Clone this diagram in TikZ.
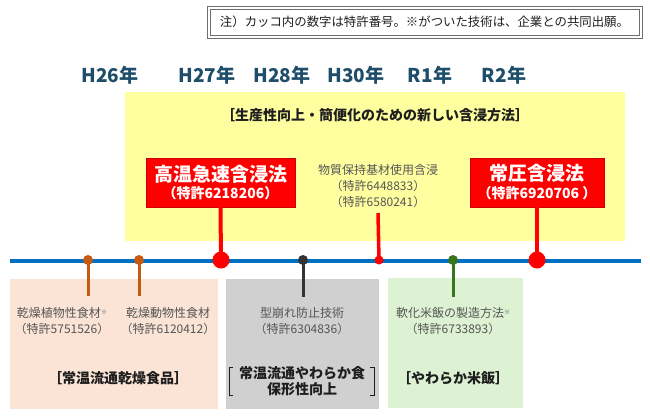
\documentclass[tikz,border=0pt]{standalone}
\usepackage{fontspec}
\setmainfont{Noto Sans CJK JP}
\usetikzlibrary{positioning}
\definecolor{yearblue}{RGB}{31,78,107}
\definecolor{lineblue}{RGB}{0,112,192}
\definecolor{pyellow}{RGB}{255,255,160}
\definecolor{ppink}{RGB}{251,228,214}
\definecolor{pgray}{RGB}{208,208,208}
\definecolor{pgreen}{RGB}{220,242,210}
\definecolor{dotorange}{RGB}{197,90,17}
\definecolor{dotdark}{RGB}{51,51,51}
\definecolor{dotgreen}{RGB}{56,118,29}
\definecolor{txtgray}{RGB}{85,85,85}
\definecolor{txtdark}{RGB}{30,30,30}
\definecolor{frame}{RGB}{110,110,110}
\tikzset{
  year/.style={text=yearblue,font=\fontsize{19}{21}\selectfont\bfseries,inner sep=0pt},
  redbox/.style={fill=red,draw=red!80!black,line width=0.4pt,text=white,align=center,inner sep=0pt,font=\bfseries},
  item/.style={text=txtgray,align=center,font=\fontsize{12}{16}\selectfont,inner sep=0pt},
  cat/.style={text=txtdark,align=center,font=\fontsize{14}{16}\selectfont\bfseries,inner sep=0pt},
  dotc/.style={circle,fill=#1,inner sep=0pt,minimum size=10pt},
  stem/.style={line width=3pt,draw=#1},
  frameline/.style={draw=frame,line width=1pt},
}
\begin{document}
\begin{tikzpicture}[x=1pt,y=-1pt]
\useasboundingbox (0,0) rectangle (650,418);
% note box (double frame)
\coordinate (nb1) at (207,6);
\coordinate (nb2) at (642,38);
\coordinate (nb3) at (210,9);
\coordinate (nb4) at (639,35);
\draw[frameline] (nb1) rectangle (nb2);
\draw[frameline] (nb3) rectangle (nb4);
\node[inner sep=0pt,text=txtdark,font=\fontsize{12.4}{14}\selectfont] (note) at (424.5,22) {注）カッコ内の数字は特許番号。※がついた技術は、企業との共同出願。};
% years
\node[year] (y26) at (110,75) {H26年};
\node[year] (y27) at (207,75) {H27年};
\node[year] (y28) at (282,75) {H28年};
\node[year] (y30) at (356,75) {H30年};
\node[year] (r1) at (430,75) {R1年};
\node[year] (r2) at (504,75) {R2年};
% background boxes
\fill[pyellow] (125,92) rectangle (625,241);
\fill[ppink] (10,279) rectangle (218,409);
\fill[pgray] (226,279) rectangle (379,409);
\fill[pgreen] (388,278) rectangle (523,408);
% timeline
\coordinate (L) at (10,261);
\coordinate (R) at (641,261);
\draw[lineblue,line width=4pt] (L) -- (R);
% yellow header
\node[cat] (hdr) at (375,115) {［生産性向上・簡便化のための新しい含浸方法］};
% red boxes
\node[redbox,minimum width=149pt,minimum height=49pt] (koon) at (220.5,182.5)
  {{\fontsize{19}{23}\selectfont 高温急速含浸法}\\[3pt]{\fontsize{14}{17}\selectfont （特許6218206）}};
\node[redbox,minimum width=134pt,minimum height=49pt] (joatsu) at (537,182.5)
  {{\fontsize{19}{23}\selectfont 常圧含浸法}\\[3pt]{\fontsize{14}{17}\selectfont （特許6920706 ）}};
\node[item] (busshitsu) at (378,186) {物質保持基材使用含浸\\（特許6448833）\\（特許6580241）};
\coordinate (bstem) at (378,213);
% dots
\node[dotc=dotorange] (d1) at (88,260) {};
\node[dotc=dotorange] (d2) at (139,260) {};
\node[dotc=red,minimum size=17pt] (d3) at (221,260) {};
\node[dotc=dotdark] (d4) at (303,260) {};
\node[dotc=red,minimum size=9pt] (d5) at (379,260) {};
\node[dotc=dotgreen] (d6) at (453,260) {};
\node[dotc=red,minimum size=17pt] (d7) at (537,260) {};
% lower stems
\coordinate (e1) at (88,296);
\coordinate (e2) at (139,296);
\coordinate (e4) at (303,297);
\coordinate (e6) at (453,297);
\draw[stem=dotorange] (d1.center) -- (e1);
\draw[stem=dotorange] (d2.center) -- (e2);
\draw[stem=dotdark] (d4.center) -- (e4);
\draw[stem=dotgreen] (d6.center) -- (e6);
% upper stems
\draw[stem=red,line width=4pt] (koon.south) -- (d3.center);
\draw[stem=red,line width=3.5pt] (bstem) -- (d5.center);
\draw[stem=red,line width=4pt] (joatsu.south) -- (d7.center);
% lower texts
\node[item] (p1) at (62,321) {乾燥植物性食材\raisebox{0.5ex}{\fontsize{6}{6}\selectfont ※}\\（特許5751526）};
\node[item] (p2) at (168,321) {乾燥動物性食材\\（特許6120412）};
\node[cat] (c1) at (118,378) {［常温流通乾燥食品］};
\node[item] (g1) at (302,321) {型崩れ防止技術\\（特許6304836）};
\node[cat] (c2) at (302,381) {常温流通やわらか食\\保形性向上};
\draw[txtdark,line width=0.7pt] (233,367) -- (229,367) -- (229,395) -- (233,395);
\draw[txtdark,line width=0.7pt] (370,367) -- (374,367) -- (374,395) -- (370,395);
\node[item] (n1) at (453,321) {軟化米飯の製造方法\raisebox{0.5ex}{\fontsize{6}{6}\selectfont ※}\\（特許6733893）};
\node[cat] (c3) at (453,378) {［やわらか米飯］};
\end{tikzpicture}
\end{document}
